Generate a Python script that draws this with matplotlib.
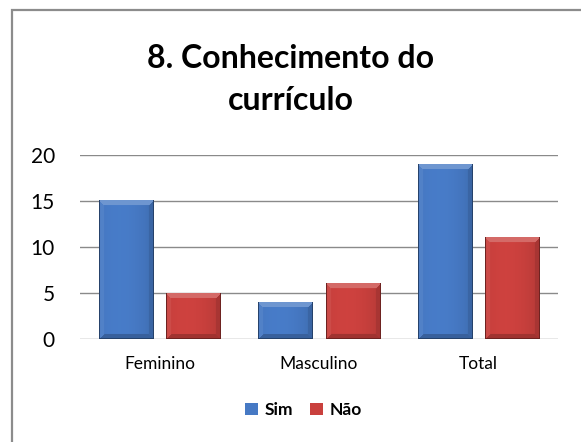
import numpy as np
import matplotlib.pyplot as plt
from matplotlib.patches import Rectangle, Patch
from matplotlib.colors import to_rgb

plt.rcParams['font.family'] = ['Lato', 'DejaVu Sans']

categorias = ['Feminino', 'Masculino', 'Total']
sim = [15, 4, 19]
nao = [5, 6, 11]
series = [('Sim', sim, '#4679C4'), ('Não', nao, '#C9403D')]


def bevel_image(w_px, h_px, base, bev=5):
    """RGB array for a bevelled bar face, w_px x h_px pixels."""
    base = np.array(to_rgb(base))
    u = np.arange(w_px)[None, :] + 0.5
    v = np.arange(h_px)[:, None] + 0.5
    u = np.broadcast_to(u, (h_px, w_px))
    v = np.broadcast_to(v, (h_px, w_px))
    d = np.stack([v, u, w_px - u, h_px - v])  # top, left, right, bottom
    face = np.argmin(d, axis=0)
    edge = np.min(d, axis=0) < bev
    # soft horizontal shading across the body
    t = (u / w_px - 0.5) * 2
    shade = 1.02 - 0.08 * t ** 2 - 0.04 * t
    img = base[None, None, :] * shade[..., None]
    light = base + (1 - base) * 0.22
    facecols = [light, base + (1 - base) * 0.06, base * 0.84, base * 0.8]
    for k, c in enumerate(facecols):
        m = edge & (face == k)
        img[m] = c
    # thin dark outline
    outline = (u < 1) | (u > w_px - 1) | (v > h_px - 1)
    img[outline] = base * 0.55
    return np.clip(img, 0, 1)


fig = plt.figure(figsize=(5.81, 4.42), dpi=100)
fig.patches.append(Rectangle((12 / 581, -0.1), 1.2, (432 / 442) + 0.1,
                             transform=fig.transFigure, fill=False,
                             edgecolor='#8c8c8c', linewidth=1.6))
ax = fig.add_axes([80 / 581, 103 / 442, 478 / 581, 184 / 442])

x = np.arange(len(categorias))
bw = 0.339
gap = 0.082
ax_w_px = 478.0
ax_h_px = 184.0
for i, (nome, vals, cor) in enumerate(series):
    off = (i - 0.5) * (bw + gap)
    for xi, val in zip(x, vals):
        x0 = xi + off - bw / 2
        ax.bar(xi + off, val, width=bw, color=cor, edgecolor='none', zorder=2)
        wpx = int(round(bw / 3 * ax_w_px))
        hpx = max(int(round(val / 20 * ax_h_px)), 1)
        ax.imshow(bevel_image(wpx, hpx, cor), extent=(x0, x0 + bw, 0, val),
                  aspect='auto', zorder=3, interpolation='bilinear')

ax.set_xlim(-0.5, 2.5)
ax.set_ylim(0, 20)
ax.set_yticks([0, 5, 10, 15, 20])
ax.set_xticks(x)
ax.set_xticklabels(categorias, fontsize=12.5)
ax.tick_params(axis='y', length=0, pad=18, labelsize=15)
ax.tick_params(axis='x', length=0, pad=12)
ax.yaxis.grid(True, color='#8a8a8a', linewidth=1.0, zorder=0)
ax.set_axisbelow(True)
for s in ax.spines.values():
    s.set_visible(False)

fig.text(0.5, 1 - 68 / 442, '8. Conhecimento do', ha='center', va='baseline',
         fontsize=23, fontweight='bold')
fig.text(0.5, 1 - 110 / 442, 'currículo', ha='center', va='baseline',
         fontsize=23, fontweight='bold')

handles = [Patch(facecolor=c, edgecolor='none', label=n) for n, _, c in series]
fig.legend(handles=handles, loc='center', bbox_to_anchor=(0.522, 1 - 410 / 442),
           ncol=2, frameon=False, handlelength=0.75,
           handleheight=0.75, handletextpad=0.35, columnspacing=1.0,
           prop={'weight': 'bold', 'size': 12.5})

fig.savefig('out.png', dpi=100)
